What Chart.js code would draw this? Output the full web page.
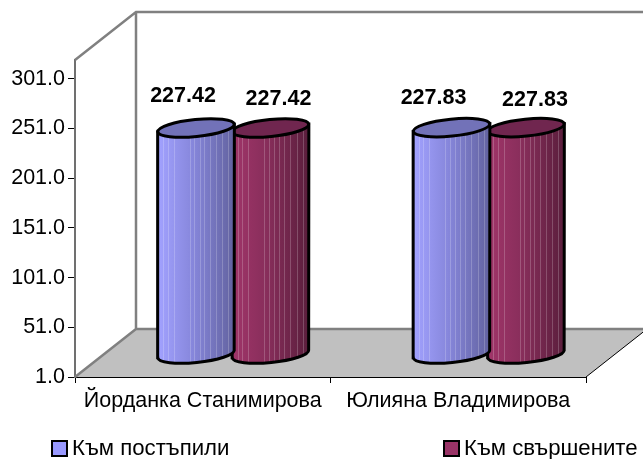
<!DOCTYPE html>
<html lang="bg">
<head>
    <meta charset="UTF-8" />
    <title>Cylinders</title>
    <script src="https://cdn.jsdelivr.net/npm/chart.js"></script>
    <style>
        body { margin: 0; background: #fff; }
        canvas { display: block; }
    </style>
</head>
<body>
    <canvas id="chart" width="643" height="459"></canvas>
    <script>
        const categories = ['Йорданка Станимирова', 'Юлияна Владимирова'];
        const seriesNames = ['Към постъпили', 'Към свършените'];
        const postapili = [227.42, 227.83];
        const svarsheni = [227.42, 227.83];
        const yTicks = [1, 51, 101, 151, 201, 251, 301];

        const FONT = '"Liberation Sans", Arial, sans-serif';
        // depth of the fake 3D box
        const DX = 61, DY = 48;
        const looks = [
            { left: '#a2a2ff', mid: '#8787dc', right: '#62629f', top: '#7272b8', swatch: '#9999ff' },
            { left: '#a03569', mid: '#882e5b', right: '#5a1e3c', top: '#70264f', swatch: '#993366' }
        ];
        // label shift from the bar centre, per series then category
        const labelShift = [[-13, -18], [8, 9]];
        const labelRise = [[26, 24], [23, 22]];
        const stripes = [0.07, 0.13, 0.21, 0.42, 0.48, 0.55, 0.61, 0.68, 0.76, 0.84, 0.92];

        function bodyGradient(ctx, x0, x1, look) {
            const g = ctx.createLinearGradient(x0, 0, x1, 0);
            g.addColorStop(0, look.left);
            g.addColorStop(0.45, look.mid);
            g.addColorStop(1, look.right);
            return g;
        }

        const box3d = {
            id: 'box3d',
            beforeDatasetsDraw(chart) {
                const { ctx, chartArea: a } = chart;
                ctx.save();
                // floor
                ctx.fillStyle = '#c0c0c0';
                ctx.beginPath();
                ctx.moveTo(a.left, a.bottom);
                ctx.lineTo(a.right, a.bottom);
                ctx.lineTo(a.right + DX, a.bottom - DY);
                ctx.lineTo(a.left + DX, a.bottom - DY);
                ctx.closePath();
                ctx.fill();
                // walls
                ctx.strokeStyle = '#808080';
                ctx.lineWidth = 2.5;
                ctx.beginPath();
                ctx.moveTo(a.left, a.top);
                ctx.lineTo(a.left + DX, a.top - DY);
                ctx.lineTo(a.right + DX, a.top - DY);
                ctx.moveTo(a.left + DX, a.top - DY);
                ctx.lineTo(a.left + DX, a.bottom - DY);
                ctx.lineTo(a.right + DX, a.bottom - DY);
                ctx.moveTo(a.left + DX, a.bottom - DY);
                ctx.lineTo(a.left, a.bottom);
                ctx.stroke();
                ctx.strokeStyle = '#000';
                ctx.lineWidth = 1;
                ctx.beginPath();
                ctx.moveTo(a.right, a.bottom);
                ctx.lineTo(a.right + DX, a.bottom - DY);
                ctx.stroke();
                ctx.restore();
            },
            beforeDatasetDraw(chart, args) {
                const { ctx } = chart;
                const look = looks[args.index];
                args.meta.data.forEach((bar, i) => {
                    const x0 = bar.x - bar.width / 2 + DX / 2;
                    const x1 = bar.x + bar.width / 2 + DX / 2;
                    const cx = bar.x + DX / 2;
                    const top = bar.y - DY / 2;
                    const base = bar.base - DY / 2;
                    const rx = bar.width / 2, ry = 8.5, tilt = -0.1;
                    const tiltY = rx * Math.sin(tilt);

                    ctx.save();
                    const path = new Path2D();
                    path.moveTo(x0, top - tiltY);
                    path.lineTo(x0, base - tiltY);
                    path.ellipse(cx, base, rx, ry, tilt, Math.PI, 0, true);
                    path.lineTo(x1, top + tiltY);
                    path.closePath();
                    ctx.fillStyle = bodyGradient(ctx, x0, x1, look);
                    ctx.fill(path);
                    ctx.save();
                    ctx.clip(path);
                    ctx.strokeStyle = 'rgba(255,255,255,0.2)';
                    ctx.lineWidth = 1;
                    stripes.forEach(s => {
                        const sx = Math.round(x0 + s * (x1 - x0)) + 0.5;
                        ctx.beginPath();
                        ctx.moveTo(sx, top);
                        ctx.lineTo(sx, base + ry + 4);
                        ctx.stroke();
                    });
                    ctx.restore();
                    ctx.strokeStyle = '#000';
                    ctx.lineWidth = 3;
                    ctx.stroke(path);
                    // lid
                    ctx.beginPath();
                    ctx.ellipse(cx, top, rx, ry, tilt, 0, Math.PI * 2);
                    ctx.fillStyle = look.top;
                    ctx.fill();
                    ctx.stroke();
                    ctx.restore();
                });
                return false;
            },
            afterDatasetsDraw(chart) {
                const { ctx } = chart;
                ctx.save();
                ctx.fillStyle = '#000';
                ctx.textAlign = 'center';
                ctx.textBaseline = 'alphabetic';
                ctx.font = 'bold 21.5px ' + FONT;
                chart.data.datasets.forEach((ds, d) => {
                    chart.getDatasetMeta(d).data.forEach((bar, i) => {
                        const tx = bar.x + DX / 2 + labelShift[d][i];
                        const ty = bar.y - DY / 2 - labelRise[d][i];
                        ctx.fillText(ds.data[i].toFixed(2), tx, ty);
                    });
                });
                // legend, spread wide like the original
                ctx.textAlign = 'left';
                ctx.font = '22.2px ' + FONT;
                const legendX = [52, 444];
                seriesNames.forEach((name, d) => {
                    ctx.fillStyle = looks[d].swatch;
                    ctx.strokeStyle = '#000';
                    ctx.lineWidth = 2;
                    ctx.fillRect(legendX[d], 441, 15, 15);
                    ctx.strokeRect(legendX[d], 441, 15, 15);
                    ctx.fillStyle = '#000';
                    ctx.fillText(name, legendX[d] + 20, 455);
                });
                ctx.restore();
            }
        };

        new Chart(document.getElementById('chart'), {
            type: 'bar',
            data: {
                labels: categories,
                datasets: [
                    { label: seriesNames[0], data: postapili, backgroundColor: looks[0].swatch },
                    { label: seriesNames[1], data: svarsheni, backgroundColor: looks[1].swatch }
                ]
            },
            options: {
                responsive: false,
                animation: false,
                layout: { padding: { top: 60, right: 57, left: 0, bottom: 0 } },
                categoryPercentage: 0.583,
                barPercentage: 1.03,
                plugins: { legend: { display: false }, tooltip: { enabled: false } },
                scales: {
                    x: {
                        afterFit: s => { s.height = 82; },
                        border: { color: '#000', width: 1 },
                        grid: { drawOnChartArea: false, color: '#000', tickLength: 6 },
                        ticks: { color: '#000', font: { family: FONT, size: 21.5 }, padding: 5, maxRotation: 0 }
                    },
                    y: {
                        min: 1,
                        max: 320,
                        afterFit: s => { s.width = 75; },
                        afterBuildTicks: s => { s.ticks = yTicks.map(v => ({ value: v })); },
                        border: { color: '#707070', width: 2 },
                        grid: { drawOnChartArea: false, color: '#000', tickLength: 7 },
                        ticks: {
                            color: '#000',
                            padding: 3,
                            font: { family: FONT, size: 21.5 },
                            callback: v => v.toFixed(1)
                        }
                    }
                }
            },
            plugins: [box3d]
        });
    </script>
</body>
</html>
